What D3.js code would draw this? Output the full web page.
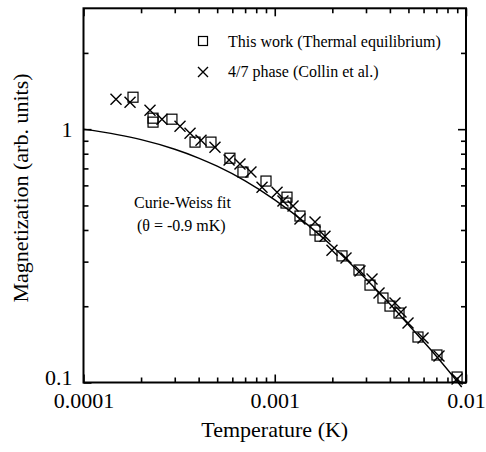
<!DOCTYPE html>
<html>
<head>
<meta charset="utf-8">
<script src="https://cdn.jsdelivr.net/npm/d3@7"></script>
<style>
  body { margin: 0; background: #fff; }
  svg { display: block; font-family: "Liberation Serif", "Times New Roman", serif; }
  .domain { display: none; }
</style>
</head>
<body>
<svg width="486" height="452"></svg>
<script>
// This work (thermal equilibrium) - squares
const squareT = [1.815e-4, 2.31e-4, 2.31e-4, 2.90e-4, 3.83e-4, 4.64e-4, 5.83e-4, 6.82e-4, 9.0e-4,
  1.159e-3, 1.145e-3, 1.355e-3, 1.624e-3, 1.725e-3, 2.247e-3, 2.757e-3, 3.148e-3, 3.68e-3,
  4.005e-3, 4.464e-3, 5.61e-3, 7.05e-3, 8.98e-3];
const squareM = [1.337, 1.105, 1.066, 1.095, 0.889, 0.889, 0.768, 0.677, 0.624,
  0.539, 0.511, 0.454, 0.400, 0.378, 0.316, 0.278, 0.2424, 0.2155,
  0.2003, 0.188, 0.1512, 0.1284, 0.1051];

// 4/7 phase (Collin et al.) - crosses
const crossT = [1.479e-4, 1.751e-4, 2.227e-4, 2.573e-4, 3.196e-4, 3.606e-4, 4.115e-4, 4.87e-4,
  5.77e-4, 6.58e-4, 7.51e-4, 8.58e-4, 1.028e-3, 1.104e-3, 1.246e-3, 1.355e-3, 1.624e-3,
  1.831e-3, 1.992e-3, 2.358e-3, 2.791e-3, 3.225e-3, 3.509e-3, 4.254e-3, 4.572e-3, 4.975e-3,
  5.96e-3, 7.225e-3, 8.98e-3];
const crossM = [1.313, 1.278, 1.188, 1.095, 1.028, 0.964, 0.905, 0.849,
  0.755, 0.728, 0.677, 0.590, 0.564, 0.520, 0.497, 0.4415, 0.4297,
  0.378, 0.333, 0.310, 0.2754, 0.256, 0.2255, 0.206, 0.1897, 0.1717,
  0.1498, 0.1272, 0.1032];

// Curie-Weiss fit curve
const fitT = [1e-4, 1.5e-4, 2e-4, 3e-4, 4e-4, 5e-4, 7e-4, 1e-3, 1.5e-3, 2e-3, 3e-3, 4e-3, 5e-3, 7e-3, 9.5e-3];
const fitM = [1.0, 0.952, 0.909, 0.833, 0.769, 0.714, 0.625, 0.526, 0.417, 0.345, 0.256, 0.204, 0.169, 0.127, 0.096];

const xMajor = [1e-4, 1e-3, 1e-2];
const xLabels = ['0.0001', '0.001', '0.01'];
const yMajor = [0.1, 1];
const yLabels = ['0.1', '1'];

const legendNames = ['This work (Thermal equilibrium)', '4/7 phase (Collin et al.)'];

const svg = d3.select('svg');
const pLeft = 83.5, pRight = 466, pTop = 8.3, pBottom = 382.5;

const x = d3.scaleLog().domain([1e-4, 1e-2]).range([pLeft, pRight]);
const y = d3.scaleLog().domain([0.1, 3]).range([pBottom, pTop]);

// minor ticks
const xMinor = [];
[1e-4, 1e-3].forEach(d => { for (let k = 2; k <= 9; k++) xMinor.push(d * k); });
const yMinor = [];
[0.1, 1].forEach(d => { for (let k = 2; k <= 9; k++) if (d * k < 3) yMinor.push(d * k); });

const major = 8, minor = 5;

function addAxis(axisFn, scale, vals, size, fmt, pad, transform) {
  const a = axisFn(scale).tickValues(vals).tickSizeInner(-size).tickSizeOuter(0)
    .tickPadding(pad).tickFormat(fmt);
  const g = svg.append('g').attr('transform', transform).call(a);
  g.selectAll('line').attr('stroke', '#000').attr('stroke-width', 1.6);
  g.selectAll('text').attr('fill', '#000').style('font-size', '22px')
    .style('font-family', '"Liberation Serif", "Times New Roman", serif');
  return g;
}

// bottom
addAxis(d3.axisBottom, x, xMajor, major, (d, i) => xLabels[i], 10, `translate(0,${pBottom})`);
addAxis(d3.axisBottom, x, xMinor, minor, () => '', 0, `translate(0,${pBottom})`);
// top
addAxis(d3.axisTop, x, xMajor, major, () => '', 0, `translate(0,${pTop})`);
addAxis(d3.axisTop, x, xMinor, minor, () => '', 0, `translate(0,${pTop})`);
// left
const yAx = addAxis(d3.axisLeft, y, yMajor, major, (d, i) => yLabels[i], 11, `translate(${pLeft},0)`);
// the bottom label sits a little above its tick, clear of 0.0001
yAx.selectAll('text').filter(d => d === 0.1).attr('y', -5);
addAxis(d3.axisLeft, y, yMinor, minor, () => '', 0, `translate(${pLeft},0)`);
// right
addAxis(d3.axisRight, y, yMajor, major, () => '', 0, `translate(${pRight},0)`);
addAxis(d3.axisRight, y, yMinor, minor, () => '', 0, `translate(${pRight},0)`);

// frame
svg.append('rect')
  .attr('x', pLeft).attr('y', pTop)
  .attr('width', pRight - pLeft).attr('height', pBottom - pTop)
  .attr('fill', 'none').attr('stroke', '#000').attr('stroke-width', 2);

// fit curve
const fit = fitT.map((t, i) => ({t, m: fitM[i]}));
svg.append('path')
  .datum(fit)
  .attr('fill', 'none').attr('stroke', '#000').attr('stroke-width', 1.4)
  .attr('d', d3.line().x(d => x(d.t)).y(d => y(d.m)).curve(d3.curveMonotoneX));

// squares
const sq = 10;
const squares = squareT.map((t, i) => ({t, m: squareM[i]}));
svg.append('g').selectAll('rect')
  .data(squares)
  .join('rect')
  .attr('x', d => x(d.t) - sq / 2).attr('y', d => y(d.m) - sq / 2)
  .attr('width', sq).attr('height', sq)
  .attr('fill', 'none').attr('stroke', '#000').attr('stroke-width', 1.2);

// crosses
const cs = 5.5;
const crosses = crossT.map((t, i) => ({t, m: crossM[i]}));
svg.append('g').selectAll('path')
  .data(crosses)
  .join('path')
  .attr('d', d => {
    const cx = x(d.t), cy = y(d.m);
    return `M${cx - cs},${cy - cs}L${cx + cs},${cy + cs}M${cx - cs},${cy + cs}L${cx + cs},${cy - cs}`;
  })
  .attr('fill', 'none').attr('stroke', '#000').attr('stroke-width', 1.4);

// legend
const lg = svg.append('g');
lg.append('rect').attr('x', 198.5).attr('y', 36.5).attr('width', 9).attr('height', 9)
  .attr('fill', 'none').attr('stroke', '#000').attr('stroke-width', 1.2);
lg.append('path').attr('d', 'M198,67L208,77M198,77L208,67')
  .attr('stroke', '#000').attr('stroke-width', 1.4);
lg.selectAll('text')
  .data(legendNames)
  .join('text')
  .attr('x', 228).attr('y', (d, i) => 47 + i * 30)
  .style('font-size', '16px')
  .text(d => d);

// annotation
svg.append('text').attr('x', 134).attr('y', 208).style('font-size', '16px').text('Curie-Weiss fit');
svg.append('text').attr('x', 137).attr('y', 231).style('font-size', '16px').text('(θ = -0.9 mK)');

// axis titles
svg.append('text')
  .attr('x', (pLeft + pRight) / 2).attr('y', 437)
  .attr('text-anchor', 'middle')
  .style('font-size', '22px')
  .text('Temperature (K)');

svg.append('text')
  .attr('transform', 'translate(28,188) rotate(-90)')
  .attr('text-anchor', 'middle')
  .style('font-size', '22px')
  .text('Magnetization (arb. units)');
</script>
</body>
</html>
